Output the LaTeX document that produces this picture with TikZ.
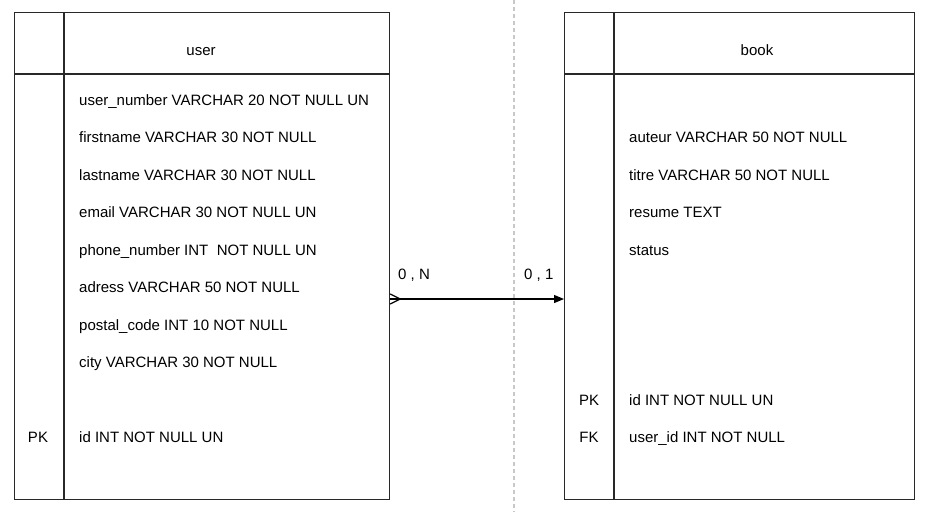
\documentclass[tikz,border=0pt]{standalone}
\usepackage{fontspec}
\setmainfont{Liberation Sans}
\usetikzlibrary{arrows.meta}
\definecolor{bordc}{RGB}{40,40,40}
\definecolor{dashc}{RGB}{200,200,200}
\begin{document}
\begin{tikzpicture}[x=1pt,y=-1pt,
  tbl/.style={draw=bordc,line width=1.2pt,inner sep=0pt,anchor=north west,minimum width=#1},
  fld/.style={anchor=base west,inner sep=0pt,font=\fontsize{15}{18}\selectfont,yshift=-5pt},
  key/.style={anchor=base,inner sep=0pt,font=\fontsize{15}{18}\selectfont,yshift=-5pt},
  sep/.style={draw=bordc,line width=1.2pt},
  conn/.style={line width=1.2pt,black}]
\useasboundingbox (0,0) rectangle (926,512);
\fill[white] (0,0) rectangle (926,512);
% dashed separator
\coordinate (dt) at (514,0);
\coordinate (db) at (514,512);
\draw[dashc,line width=1.2pt,dash pattern=on 4pt off 3pt] (dt) -- (db);
% user table
\node[tbl=375pt,minimum height=487pt] (user) at (14,12) {};
\draw[sep] (64,12) -- (64,499);
\draw[sep] (14,74) -- (389,74);
\node[key] (uhead) at (201,50) {user};
\node[fld] (u1) at (79,100) {user\_number VARCHAR 20 NOT NULL UN};
\node[fld] (u2) at (79,137.5) {firstname VARCHAR 30 NOT NULL};
\node[fld] (u3) at (79,175) {lastname VARCHAR 30 NOT NULL};
\node[fld] (u4) at (79,212.5) {email VARCHAR 30 NOT NULL UN};
\node[fld] (u5) at (79,250) {phone\_number INT\ \ NOT NULL UN};
\node[fld] (u6) at (79,287.5) {adress VARCHAR 50 NOT NULL};
\node[fld] (u7) at (79,325) {postal\_code INT 10 NOT NULL};
\node[fld] (u8) at (79,362.5) {city VARCHAR 30 NOT NULL};
\node[key] (upk) at (38,437.5) {PK};
\node[fld] (u9) at (79,437.5) {id INT NOT NULL UN};
% book table
\node[tbl=350pt,minimum height=487pt] (book) at (564,12) {};
\draw[sep] (614,12) -- (614,499);
\draw[sep] (564,74) -- (914,74);
\node[key] (bhead) at (757,50) {book};
\node[fld] (b1) at (629,137.5) {auteur VARCHAR 50 NOT NULL};
\node[fld] (b2) at (629,175) {titre VARCHAR 50 NOT NULL};
\node[fld] (b3) at (629,212.5) {resume TEXT};
\node[fld] (b4) at (629,250) {status};
\node[key] (bpk) at (589,400) {PK};
\node[fld] (b5) at (629,400) {id INT NOT NULL UN};
\node[key] (bfk) at (589,437.5) {FK};
\node[fld] (b6) at (629,437.5) {user\_id INT NOT NULL};
% connector
\coordinate (ca) at (user.east |- 0,299);
\coordinate (cb) at (book.west |- 0,299);
\draw[conn,-{Triangle[length=10pt,width=8pt]}] (ca) -- (cb);
\draw[conn] ([yshift=-5pt]ca) -- ([xshift=10pt]ca) -- ([yshift=5pt]ca);
\node[fld] (ln) at (398,274) {0 , N};
\node[fld] (l1) at (524,274) {0 , 1};
\end{tikzpicture}
\end{document}
